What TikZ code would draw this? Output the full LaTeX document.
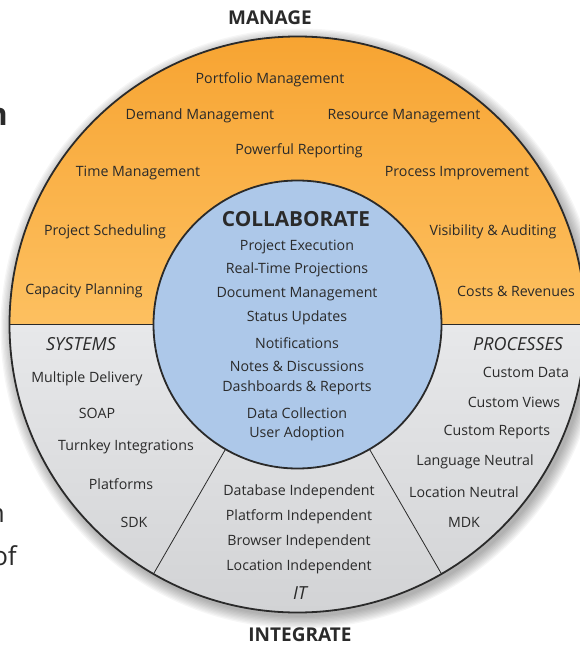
\documentclass[tikz,border=0pt]{standalone}
\usepackage{fontspec}
\setmainfont{Open Sans}
\definecolor{orangeHaut}{HTML}{F7A432}
\definecolor{orangeBas}{HTML}{FDC060}
\definecolor{grisHaut}{HTML}{E7E8EA}
\definecolor{grisBas}{HTML}{D2D3D5}
\definecolor{bleu}{HTML}{ADC8E9}
\definecolor{encre}{HTML}{2A2A2A}
\tikzstyle{texte}=[text=encre,inner sep=0pt,font=\fontsize{14.2}{16}\selectfont]
\tikzstyle{titre}=[text=encre,inner sep=0pt,font=\fontsize{19}{22}\selectfont\bfseries]
\tikzstyle{rubrique}=[text=encre,inner sep=0pt,font=\fontsize{18}{20}\selectfont\itshape]
\tikzstyle{marge}=[text=encre,inner sep=0pt,anchor=east]
\tikzstyle{bord}=[draw=encre,line width=1.8pt]
\tikzstyle{trait}=[draw=encre,line width=0.8pt]

\begin{document}
\begin{tikzpicture}[x=1pt,y=1pt]
\useasboundingbox (0,0) rectangle (579,-647);
\coordinate (O) at (297.5,-324.5);

% ombre
\foreach \i in {1,...,10}
  \fill[black,opacity=0.035] ([shift={(3,-4)}]O) circle (287+\i*1.3);

% demi-disques
\fill[top color=orangeHaut,middle color=orangeHaut,bottom color=orangeBas]
  ([shift={(180:288)}]O) arc[start angle=180,end angle=0,radius=288] -- cycle;
\fill[top color=grisHaut,bottom color=grisBas]
  ([shift={(180:288)}]O) arc[start angle=180,end angle=360,radius=288] -- cycle;
\draw[trait] ([shift={(-120:144)}]O) -- ([shift={(-120:288)}]O);
\draw[trait] ([shift={(-60:144)}]O) -- ([shift={(-60:288)}]O);
\draw[bord] ([shift={(180:288)}]O) -- ([shift={(0:288)}]O);
\draw[bord] (O) circle (288);
\fill[bleu] (O) circle (144);
\draw[bord] (O) circle (144);

% titres
\node[titre] (MAN) at (270,-18) {MANAGE};
\node[titre] (INT) at (300,-635) {INTEGRATE};
\node[titre,font=\fontsize{20.8}{22}\selectfont\bfseries] (COL) at (296,-219) {COLLABORATE};

% partie haute
\node[texte] (PM) at (270,-80) {Portfolio Management};
\node[texte] (DM) at (200,-116) {Demand Management};
\node[texte] (RM) at (404,-116) {Resource Management};
\node[texte] (PR) at (299,-151) {Powerful Reporting};
\node[texte] (TM) at (138,-173) {Time Management};
\node[texte] (PI) at (457,-173) {Process Improvement};
\node[texte] (PS) at (105,-232) {Project Scheduling};
\node[texte] (VA) at (493,-232) {Visibility \& Auditing};
\node[texte] (CP) at (84,-291) {Capacity Planning};
\node[texte] (CR) at (516,-291) {Costs \& Revenues};

% centre
\node[texte] (PE) at (297,-247) {Project Execution};
\node[texte] (RT) at (297,-270) {Real-Time Projections};
\node[texte] (DO) at (297,-294) {Document Management};
\node[texte] (SU) at (297,-318) {Status Updates};
\node[texte] (NO) at (297,-343) {Notifications};
\node[texte] (ND) at (297,-366) {Notes \& Discussions};
\node[texte] (DR) at (297,-388) {Dashboards \& Reports};
\node[texte] (DC) at (297,-413) {Data Collection};
\node[texte] (UA) at (297,-434) {User Adoption};

% systemes
\node[rubrique] (SYS) at (81,-344) {SYSTEMS};
\node[texte] (MD) at (87,-379) {Multiple Delivery};
\node[texte] (SO) at (97,-413) {SOAP};
\node[texte] (TI) at (126,-447) {Turnkey Integrations};
\node[texte] (PL) at (121,-484) {Platforms};
\node[texte] (SD) at (134,-522) {SDK};

% processus
\node[rubrique] (PRO) at (518,-344) {PROCESSES};
\node[texte] (CD) at (526,-372) {Custom Data};
\node[texte] (CV) at (514,-402) {Custom Views};
\node[texte] (CRe) at (497,-432) {Custom Reports};
\node[texte] (LN) at (475,-462) {Language Neutral};
\node[texte] (LoN) at (464,-492) {Location Neutral};
\node[texte] (MDK) at (464,-522) {MDK};

% IT
\node[texte] (DI) at (299,-492) {Database Independent};
\node[texte] (PlI) at (299,-517) {Platform Independent};
\node[texte] (BI) at (299,-542) {Browser Independent};
\node[texte] (LI) at (299,-567) {Location Independent};
\node[rubrique] (IT) at (300,-593) {IT};

% texte coupe a gauche
\node[marge,font=\fontsize{31}{36}\selectfont\bfseries] (G1) at (8,-116.5) {n};
\node[marge,font=\fontsize{26}{30}\selectfont] (G2) at (5,-515) {n};
\node[marge,font=\fontsize{26}{30}\selectfont] (G3) at (17,-556) {of};
\end{tikzpicture}
\end{document}
